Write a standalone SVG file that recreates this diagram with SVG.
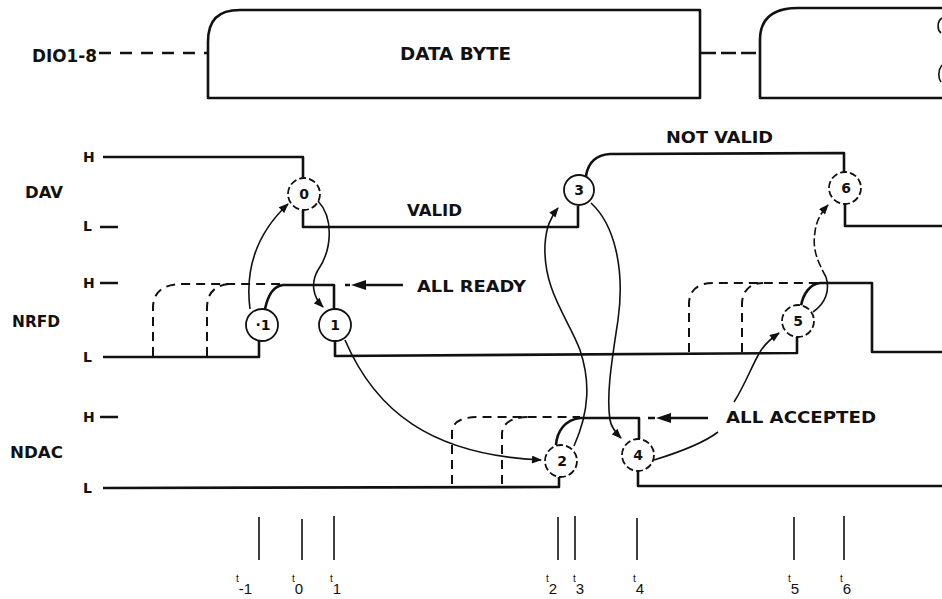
<svg xmlns="http://www.w3.org/2000/svg" width="942" height="599" viewBox="0 0 942 599">
<defs>
<style>
.lbl{font-family:"DejaVu Sans","Liberation Sans",sans-serif;font-weight:bold;fill:#111}
.hl{font-family:"DejaVu Sans","Liberation Sans",sans-serif;font-weight:bold;font-size:14px;fill:#111}
.num{font-family:"DejaVu Sans","Liberation Sans",sans-serif;font-weight:bold;font-size:14px;fill:#111;text-anchor:middle}
.tk{font-family:"Liberation Sans","DejaVu Sans",sans-serif;font-size:10px;fill:#111}
.sig{fill:none;stroke:#111;stroke-width:2.6;stroke-linejoin:round}
.dsig{fill:none;stroke:#111;stroke-width:2;stroke-dasharray:9,6}
.box{fill:none;stroke:#111;stroke-width:2.6;stroke-linejoin:round}
.con{fill:none;stroke:#111;stroke-width:1.6}
.cs{fill:#fff;stroke:#111;stroke-width:1.8}
.cd{fill:#fff;stroke:#111;stroke-width:1.8;stroke-dasharray:7,3}
.tick{stroke:#111;stroke-width:1.6}
</style>
<marker id="ah" viewBox="0 0 10 8" refX="9" refY="4" markerWidth="11" markerHeight="8" markerUnits="userSpaceOnUse" orient="auto">
<path d="M0,0 L10,4 L0,8 Z" fill="#111"/>
</marker>
</defs>
<rect width="942" height="599" fill="#fff"/>

<!-- DIO row -->
<g id="dio">
<text class="lbl" x="32" y="62" font-size="17" textLength="65" lengthAdjust="spacingAndGlyphs">DIO1-8</text>
<path class="box" d="M99,53 L208,53" stroke-dasharray="12,9"/>
<path class="box" d="M208,98 L208,42 C208,20 218,10 240,10 L700,10 L700,98 Z"/>
<text class="lbl" x="400" y="60" font-size="17" textLength="111" lengthAdjust="spacingAndGlyphs">DATA BYTE</text>
<path class="box" d="M701,53 L761,53" stroke-dasharray="15,5"/>
<path class="box" d="M942,8 L798,8 C774,8 760,18 760,40 L760,98 L942,98"/>
<path class="con" stroke-width="2" d="M942,18 C937,21 937,30 941,33 M942,65 C938,70 938,78 941,82"/>
</g>

<!-- Signal labels -->
<g id="labels">
<text class="lbl" x="25" y="198" font-size="16" textLength="38" lengthAdjust="spacingAndGlyphs">DAV</text>
<text class="lbl" x="12" y="327" font-size="16" textLength="48" lengthAdjust="spacingAndGlyphs">NRFD</text>
<text class="lbl" x="10" y="458" font-size="16" textLength="53" lengthAdjust="spacingAndGlyphs">NDAC</text>
<text class="hl" x="83" y="162">H</text>
<text class="hl" x="83" y="231">L</text>
<text class="hl" x="83" y="288">H</text>
<text class="hl" x="83" y="362">L</text>
<text class="hl" x="83" y="422">H</text>
<text class="hl" x="83" y="493">L</text>
<path class="sig" d="M100,227 L118,227 M100,283 L118,283 M100,417 L118,417"/>
<text class="lbl" x="407" y="216" font-size="16" textLength="55" lengthAdjust="spacingAndGlyphs">VALID</text>
<text class="lbl" x="666" y="143" font-size="16" textLength="107" lengthAdjust="spacingAndGlyphs">NOT VALID</text>
<text class="lbl" x="417" y="292" font-size="16" textLength="109" lengthAdjust="spacingAndGlyphs">ALL READY</text>
<text class="lbl" x="726" y="423" font-size="16" textLength="150" lengthAdjust="spacingAndGlyphs">ALL ACCEPTED</text>
</g>

<!-- Signal waveforms -->
<g id="waveforms">
<!-- DAV -->
<path class="sig" d="M103,157 L303,157 L303,178"/>
<path class="sig" d="M303,210 L303,227 L578,227 L578,206"/>
<path class="sig" d="M586,176 C588,163 595,155 610,154 L844,153 L844,172"/>
<path class="sig" d="M845,204 L845,226 L942,226"/>
<!-- NRFD -->
<path class="sig" d="M103,357 L259,357 L259,341"/>
<path class="sig" d="M265,309 C268,295 273,286 283,285 L334,285 L334,309"/>
<path class="sig" d="M335,341 L335,356 L797,353 L797,337"/>
<path class="sig" d="M801,306 C803,294 810,284 820,283 L872,283 L872,352 L942,352"/>
<path class="dsig" d="M153,356 L153,308 C153,292 163,284 183,284 L282,284"/>
<path class="dsig" d="M207,356 L207,308 C207,294 214,285 230,284"/>
<path class="dsig" d="M689,352 L689,304 C689,290 698,283 713,283 L818,283"/>
<path class="dsig" d="M742,352 L742,304 C742,291 750,283 763,283"/>
<!-- NDAC -->
<path class="sig" d="M103,488 L559,487 L559,477"/>
<path class="sig" d="M556,445 C557,431 565,420 580,418 L639,418 L639,439"/>
<path class="sig" d="M638,471 L638,486 L942,486"/>
<path class="dsig" d="M452,484 L452,432 C452,422 462,417 478,417 L580,417"/>
<path class="dsig" d="M502,484 L502,434 C502,424 511,417 528,417"/>
</g>

<!-- Event nodes -->
<g id="ev-m1"><circle class="cs" cx="262" cy="325" r="16"/><text class="num" x="263" y="330">·1</text></g>
<g id="ev-0"><circle class="cd" cx="304" cy="194" r="16"/><text class="num" x="304" y="199">0</text></g>
<g id="ev-1"><circle class="cs" cx="335" cy="325" r="16"/><text class="num" x="335" y="330">1</text></g>
<g id="ev-2"><circle class="cd" cx="561" cy="461" r="16"/><text class="num" x="562" y="466">2</text></g>
<g id="ev-3"><circle class="cs" cx="579" cy="190" r="15"/><text class="num" x="579" y="195">3</text></g>
<g id="ev-4"><circle class="cd" cx="638" cy="455" r="16"/><text class="num" x="638" y="460">4</text></g>
<g id="ev-5"><circle class="cd" cx="798" cy="321" r="16"/><text class="num" x="798" y="326">5</text></g>
<g id="ev-6"><circle class="cd" cx="845" cy="188" r="16"/><text class="num" x="846" y="193">6</text></g>

<!-- Connectors -->
<g id="connectors">
<path class="con" d="M250,309 C245,270 255,235 288,204" marker-end="url(#ah)"/>
<path class="con" d="M318,201 C334,218 332,250 318,270 C311,282 312,296 323,307" marker-end="url(#ah)"/>
<path class="con" d="M345,340 C375,410 430,455 541,460" marker-end="url(#ah)"/>
<path class="con" d="M574,446 C590,410 590,380 580,350 C568,318 543,290 545,245 C546,228 550,218 558,208" marker-end="url(#ah)"/>
<path class="con" d="M591,203 C615,225 625,270 618,320 C612,360 606,395 610,420 C611,426 614,431 621,438" marker-end="url(#ah)"/>
<path class="con" d="M654,460 C680,452 705,442 718,432"/>
<path class="con" d="M734,402 C745,385 752,365 760,352 C764,345 769,340 779,333" marker-end="url(#ah)"/>
<path class="con" d="M813,312 C826,303 830,290 826,277"/>
<path class="con" d="M826,277 C818,262 812,250 815,232 C816,222 820,214 828,205" stroke-dasharray="8,3" marker-end="url(#ah)"/>
<!-- ALL READY / ALL ACCEPTED pointers -->
<path class="sig" d="M345,285 L350,285 M360,285 L403,285"/>
<path d="M351,285 L366,280 L366,290 Z" fill="#111"/>
<path class="sig" d="M648,418 L655,418 M665,418 L708,418"/>
<path d="M656,418 L671,413 L671,423 Z" fill="#111"/>
</g>

<!-- Time marks -->
<g id="timeline">
<path class="tick" d="M259,517 L259,560 M302,519 L302,560 M334,516 L334,560 M558,517 L558,560 M575,516 L575,560 M637,518 L637,560 M794,517 L794,560 M844,516 L844,560"/>
<text class="tk" x="236" y="582">t<tspan dy="12" font-size="15">-1</tspan></text>
<text class="tk" x="292" y="582">t<tspan dy="12" font-size="15">0</tspan></text>
<text class="tk" x="330" y="582">t<tspan dy="12" font-size="15">1</tspan></text>
<text class="tk" x="546" y="582">t<tspan dy="12" font-size="15">2</tspan></text>
<text class="tk" x="573" y="582">t<tspan dy="12" font-size="15">3</tspan></text>
<text class="tk" x="633" y="582">t<tspan dy="12" font-size="15">4</tspan></text>
<text class="tk" x="788" y="582">t<tspan dy="12" font-size="15">5</tspan></text>
<text class="tk" x="840" y="582">t<tspan dy="12" font-size="15">6</tspan></text>
</g>
</svg>
